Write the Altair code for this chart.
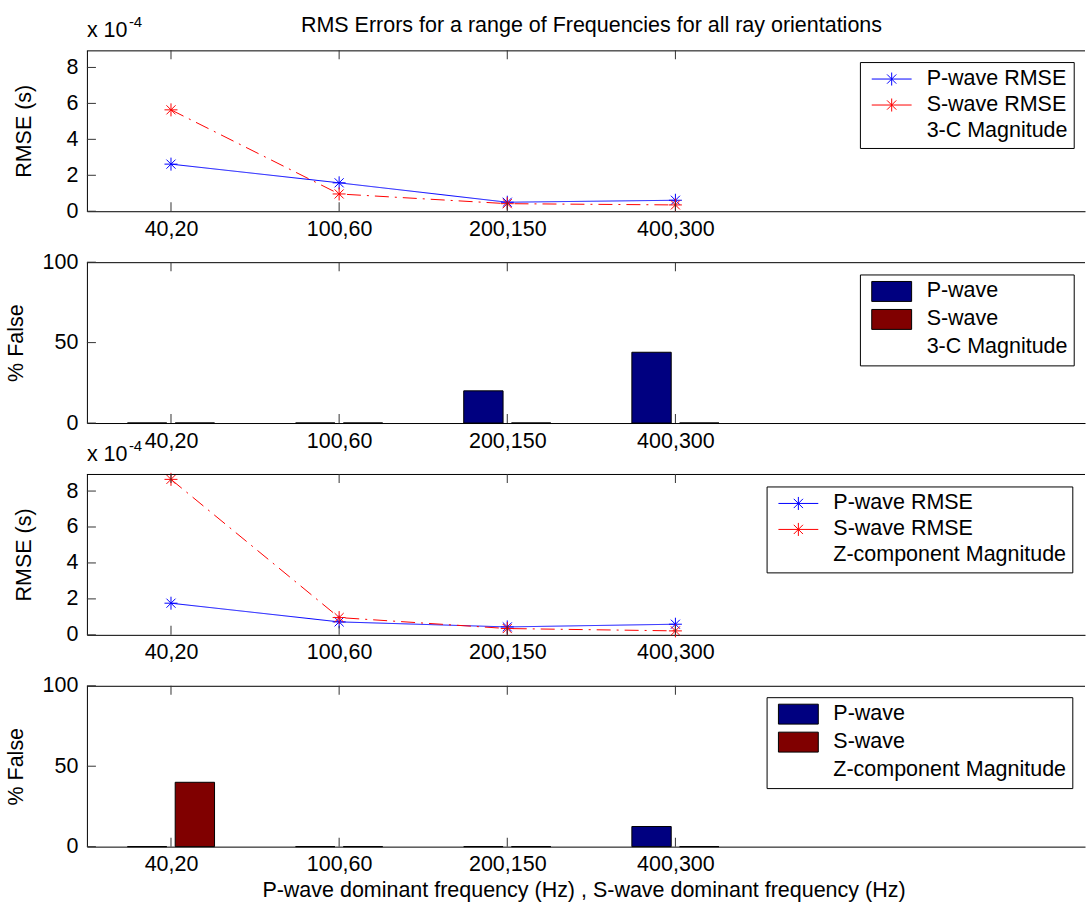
import json
import altair as alt
import pandas as pd

# ---------------- data ----------------
freq_labels = ["40,20", "100,60", "200,150", "400,300"]
positions = [1, 2, 3, 4]

# RMSE in seconds (3-C magnitude picks)
p_rmse_3c = [2.62e-4, 1.58e-4, 0.50e-4, 0.61e-4]
s_rmse_3c = [5.64e-4, 0.96e-4, 0.42e-4, 0.35e-4]
# RMSE in seconds (Z-component picks)
p_rmse_z = [1.76e-4, 0.72e-4, 0.44e-4, 0.59e-4]
s_rmse_z = [8.65e-4, 0.96e-4, 0.35e-4, 0.22e-4]

# % false picks
p_false_3c = [0, 0, 20, 44]
s_false_3c = [0, 0, 0, 0]
p_false_z = [0, 0, 0, 12.5]
s_false_z = [40, 0, 0, 0]

rmse_ticks = [0, 2e-4, 4e-4, 6e-4, 8e-4]
pct_ticks = [0, 50, 100]

title_text = "RMS Errors for a range of Frequencies for all ray orientations"
x_title = "P-wave dominant frequency (Hz) , S-wave dominant frequency (Hz)"

# ---------------- style ----------------
FONT = "Liberation Sans"
FS = 21.5
W = 999
H = 161
XDOM = [0.5, 6.436]
STAR = "M0,-1V1M-1,0H1M-0.7,-0.7L0.7,0.7M-0.7,0.7L0.7,-0.7"
LEG_LINE = "M-1.9,0H1.9M0,-0.62V0.62M-0.44,-0.44L0.44,0.44M-0.44,0.44L0.44,-0.44"
LEG_BOX = "M-1.9,-0.95H1.9V0.95H-1.9Z"
TICK_COLOR = "#333333"
TICK_LEN = 9

label_expr = json.dumps(freq_labels) + "[datum.value - 1]"
xscale = alt.Scale(domain=XDOM, nice=False, zero=False)


def x_axis(with_title):
    kw = dict(values=positions, labelExpr=label_expr, ticks=False, tickSize=0,
              labelPadding=7, labelFontSize=FS, labelFont=FONT, labelColor="black",
              labelAngle=0, domainColor="black", domainWidth=1, grid=False)
    if with_title:
        kw.update(title=x_title, titleFont=FONT, titleFontSize=FS, titleFontWeight="normal",
                  titleColor="black", titleX=497, titleY=50, titleAlign="center",
                  titleBaseline="alphabetic")
    else:
        kw.update(title=None)
    return alt.Axis(**kw)


def y_axis(values, title, title_x, scale_1e4):
    kw = dict(values=values, ticks=False, tickSize=0, labelPadding=9, labelFontSize=FS,
              labelFont=FONT, labelColor="black", domainColor="black", domainWidth=1,
              grid=False, title=title, titleFont=FONT, titleFontSize=FS,
              titleFontWeight="normal", titleColor="black", titleX=title_x, titleY=H / 2,
              titleAngle=270, titleAlign="center", titleBaseline="middle")
    if scale_1e4:
        kw.update(labelExpr="format(round(datum.value * 1e4), 'd')")
    return alt.Axis(**kw)


def frame_layers(xax, yfield_df, yfield, yscale, yax):
    tick_df = pd.DataFrame({"pos": positions})
    top_border = alt.Chart(pd.DataFrame({"a": [0]})).mark_rule(color="black", strokeWidth=1).encode(
        x=alt.value(0), x2=alt.value(W), y=alt.value(0.5))
    xt_top = alt.Chart(tick_df).mark_tick(
        color=TICK_COLOR, orient="vertical", size=TICK_LEN, thickness=1, opacity=1).encode(
        x=alt.X("pos:Q", scale=xscale, axis=xax), y=alt.value(TICK_LEN / 2))
    xt_bot = alt.Chart(tick_df).mark_tick(
        color=TICK_COLOR, orient="vertical", size=TICK_LEN, thickness=1, opacity=1).encode(
        x=alt.X("pos:Q", scale=xscale, axis=xax), y=alt.value(H - TICK_LEN / 2))
    yt = alt.Chart(yfield_df).mark_tick(
        color=TICK_COLOR, orient="horizontal", size=TICK_LEN, thickness=1, opacity=1).encode(
        y=alt.Y(f"{yfield}:Q", scale=yscale, axis=yax), x=alt.value(TICK_LEN / 2))
    return [top_border, xt_top, xt_bot, yt]


def make_legend(symbol, legend_x, legend_y, spaces):
    return alt.Legend(orient="none", legendX=legend_x, legendY=legend_y, title=None,
                      symbolType=symbol, symbolSize=441, symbolStrokeWidth=1,
                      symbolOpacity=1, symbolOffset=14.8, labelOffset=24,
                      labelFontSize=FS, labelFont=FONT, labelColor="black",
                      padding=6, rowPadding=4, strokeColor="black", fillColor="white",
                      labelLimit=400,
                      labelExpr="datum.label + '" + " " * spaces + "'")


def line_panel(p_vals, s_vals, mag_label, legend_x, legend_y, spaces, first):
    series_dom = ["P-wave RMSE", "S-wave RMSE", mag_label]
    df = pd.DataFrame({
        "pos": positions * 2,
        "value": p_vals + s_vals,
        "series": ["P-wave RMSE"] * 4 + ["S-wave RMSE"] * 4,
    })
    xax = x_axis(False)
    yscale = alt.Scale(domain=[0, 8.95e-4], nice=False, zero=True)
    yax = y_axis(rmse_ticks, "RMSE (s)", -62, True)
    legend = make_legend(LEG_LINE, legend_x, legend_y, spaces)
    color = alt.Color("series:N", scale=alt.Scale(domain=series_dom,
                                                   range=["#0000ff", "#ff0000", "transparent"]),
                      legend=legend)
    base = alt.Chart(df).encode(
        x=alt.X("pos:Q", scale=xscale, axis=xax),
        y=alt.Y("value:Q", scale=yscale, axis=yax),
    )
    lines = base.mark_line(strokeWidth=1).encode(
        color=color,
        strokeDash=alt.StrokeDash("series:N", scale=alt.Scale(
            domain=["P-wave RMSE", "S-wave RMSE"], range=[[1, 0], [14, 6, 2, 6]]), legend=None),
    )
    pts = base.mark_point(shape=STAR, filled=False, size=169, strokeWidth=1, opacity=1).encode(
        color=color)
    layers = frame_layers(xax, pd.DataFrame({"t": rmse_ticks}), "t", yscale, yax)
    sci = alt.Chart(pd.DataFrame({"t": ["x 10"]})).mark_text(
        align="left", baseline="alphabetic", font=FONT, fontSize=FS, color="black").encode(
        text="t:N", x=alt.value(0), y=alt.value(-13))
    sup = alt.Chart(pd.DataFrame({"t": ["-4"]})).mark_text(
        align="left", baseline="alphabetic", font=FONT, fontSize=15, color="black").encode(
        text="t:N", x=alt.value(42), y=alt.value(-23))
    extra = [sci, sup]
    if first:
        ttl = alt.Chart(pd.DataFrame({"t": [title_text]})).mark_text(
            align="center", baseline="alphabetic", font=FONT, fontSize=FS, color="black").encode(
            text="t:N", x=alt.value(505), y=alt.value(-18))
        anchor = alt.Chart(pd.DataFrame({"a": [0]})).mark_rule(strokeOpacity=0, strokeWidth=1).encode(
            x=alt.value(-86.5), x2=alt.value(-86.5), y=alt.value(-49.5), y2=alt.value(-49.5))
        extra += [ttl, anchor]
    return alt.layer(lines, pts, *layers, *extra).properties(width=W, height=H)


def bar_panel(p_vals, s_vals, mag_label, legend_x, legend_y, spaces, last):
    series_dom = ["P-wave", "S-wave", mag_label]
    df = pd.DataFrame({
        "pos": positions * 2,
        "value": p_vals + s_vals,
        "series": ["P-wave"] * 4 + ["S-wave"] * 4,
    })
    xax = x_axis(last)
    yscale = alt.Scale(domain=[0, 100], nice=False, zero=True)
    yax = y_axis(pct_ticks, "% False", -70, False)
    legend = make_legend(LEG_BOX, legend_x, legend_y, spaces)
    fill = alt.Fill("series:N", scale=alt.Scale(domain=series_dom,
                                                 range=["#000080", "#800000", "transparent"]),
                    legend=legend)
    stroke = alt.Stroke("series:N", scale=alt.Scale(domain=series_dom,
                                                     range=["black", "black", "transparent"]),
                        legend=legend)
    bars = alt.Chart(df).transform_calculate(
        shift="datum.series == 'P-wave' ? -0.142 : 0.142",
    ).transform_calculate(
        left="datum.pos + datum.shift - 0.117",
        right="datum.pos + datum.shift + 0.117",
        base0="0",
    ).mark_rect(strokeWidth=1, opacity=1).encode(
        x=alt.X("left:Q", scale=xscale, axis=xax),
        x2="right:Q",
        y=alt.Y("value:Q", scale=yscale, axis=yax),
        y2="base0:Q",
        fill=fill,
        stroke=stroke,
    )
    layers = frame_layers(xax, pd.DataFrame({"t": pct_ticks}), "t", yscale, yax)
    return alt.layer(bars, *layers).properties(width=W, height=H)


p1 = line_panel(p_rmse_3c, s_rmse_3c, "3-C Magnitude", 773.7, 11.7, 4, True)
p2 = bar_panel(p_false_3c, s_false_3c, "3-C Magnitude", 773.7, 12.3, 4, False)
p3 = line_panel(p_rmse_z, s_rmse_z, "Z-component Magnitude", 680.3, 12.5, 5, False)
p4 = bar_panel(p_false_z, s_false_z, "Z-component Magnitude", 680.3, 11.4, 5, True)

chart = alt.vconcat(p1, p2, p3, p4, spacing=51, bounds="flush").resolve_scale(
    color="independent", fill="independent", stroke="independent", strokeDash="independent",
    x="independent", y="independent",
).resolve_legend(
    color="independent", fill="independent", stroke="independent", strokeDash="independent",
).configure_view(stroke=None).properties(padding=0, background="white")

chart.save("out.html", embed_options={"renderer": "svg", "actions": False})
